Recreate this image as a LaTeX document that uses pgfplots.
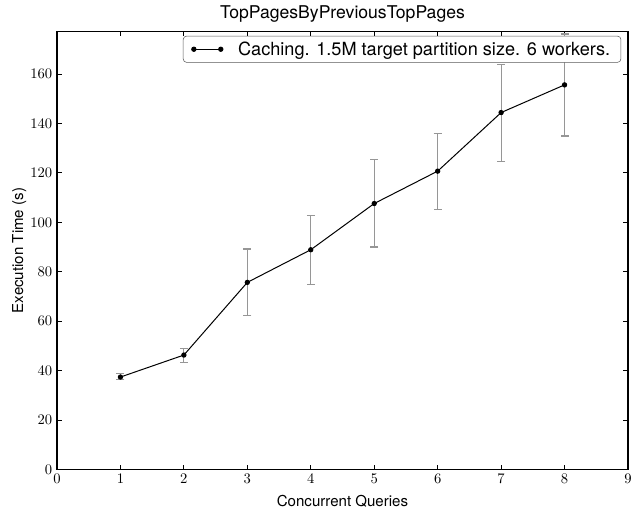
\documentclass[border=0pt]{standalone}
\usepackage{fontspec}
\setmainfont{TeX Gyre Heros}
\usepackage{pgfplots}
\pgfplotsset{compat=1.18}
\definecolor{errgray}{RGB}{150,150,150}

\begin{document}
\begin{tikzpicture}[x=0.75pt,y=0.75pt]
% page frame in px of the reference (axis box lower left at origin)
\path[use as bounding box] (-57,-39.5) rectangle (579,469.5);
\begin{axis}[
  at={(0,0)}, anchor=south west,
  scale only axis,
  width=428.25pt, height=328.5pt,
  xmin=0, xmax=9, ymin=0, ymax=177.2,
  xtick={0,1,...,9}, ytick={0,20,...,160},
  tick align=inside, major tick length=3.6pt,
  xtick pos=both, ytick pos=both,
  tick style={black, line width=0.6pt},
  axis line style={black, line width=0.8pt},
  tick label style={font=\fontsize{11.3}{13}\selectfont},
  title={TopPagesByPreviousTopPages},
  title style={font=\fontsize{13.2}{15}\selectfont,
    at={(axis description cs:0.5,1.0297)}, anchor=base, yshift=-6pt},
  xlabel={Concurrent Queries},
  ylabel={Execution Time (s)},
  xlabel style={font=\fontsize{11.3}{13}\selectfont,
    at={(axis description cs:0.5,-0.0834)}, anchor=base},
  ylabel style={font=\fontsize{11.3}{13}\selectfont,
    at={(axis description cs:-0.0595,0.5)}, anchor=base},
  legend style={at={(0.988,0.99)}, anchor=north east, draw=black!65,
    rounded corners=2.5pt, font=\fontsize{13.6}{15}\selectfont,
    inner xsep=6pt, inner ysep=2pt, column sep=9pt},
  legend cell align=left,
  legend image code/.code={
    \draw[#1] (0cm,0cm) -- (0.71cm,0cm);
    \fill (0cm,0cm) circle (1.6pt);
    \fill (0.71cm,0cm) circle (1.6pt);
  },
]
\addplot[black, line width=0.75pt, mark=*, mark size=1.6pt,
  error bars/.cd, y dir=both, y explicit,
  error bar style={errgray, line width=0.9pt},
  error mark options={errgray, line width=0.9pt, rotate=90, mark size=3pt}]
  table[x=x, y=y, y error plus=ep, y error minus=em] {
x y ep em
1 37.4 1.3 1.1
2 46.3 2.7 2.9
3 75.7 13.5 13.4
4 88.9 14.0 14.0
5 107.6 17.8 17.6
6 120.7 15.3 15.4
7 144.4 19.4 19.8
8 155.6 20.6 20.7
};
\addlegendentry{Caching. 1.5M target partition size. 6 workers.}
\end{axis}
\end{tikzpicture}
\end{document}
